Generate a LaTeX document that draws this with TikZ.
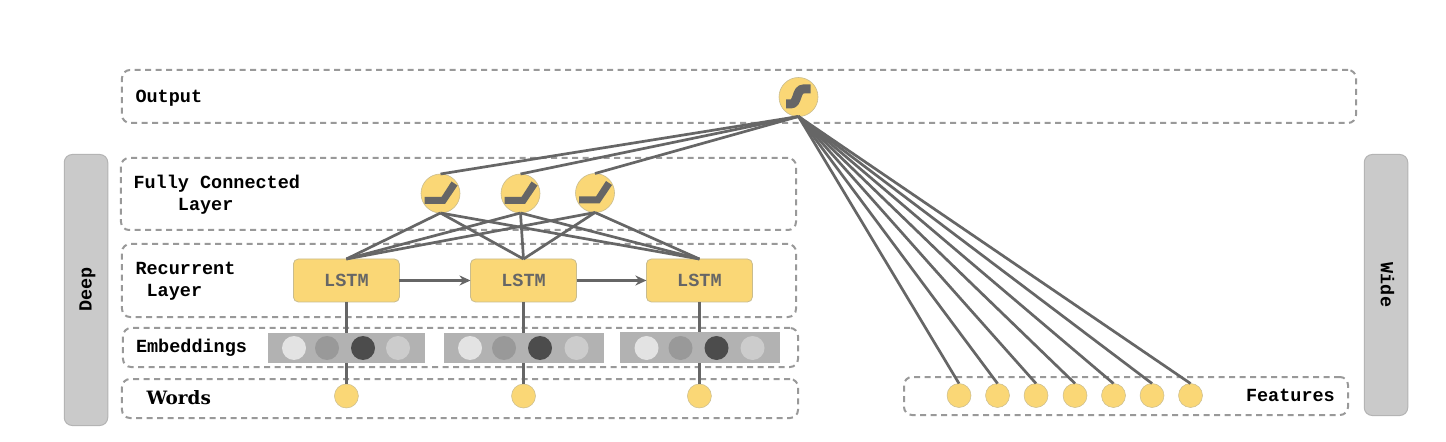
\documentclass[tikz,border=0pt]{standalone}
\usepackage{fontspec}
\setmainfont{DejaVu Serif}
\setmonofont{Liberation Mono}
\usetikzlibrary{arrows.meta}
\definecolor{ylw}{HTML}{FAD776}
\definecolor{ylwb}{HTML}{C9BC8E}
\definecolor{lin}{HTML}{666666}
\definecolor{dsh}{HTML}{999999}
\definecolor{barf}{HTML}{CACACA}
\definecolor{barb}{HTML}{B4B4B4}
\tikzset{
  x=1bp,y=-1bp,
  every node/.style={inner sep=0pt,outer sep=0pt},
  dbox/.style={draw=dsh,line width=2bp,dash pattern=on 6bp off 4.5bp,rounded corners=8bp,rectangle},
  bar/.style={draw=barb,line width=1bp,fill=barf,rounded corners=8bp,rectangle,minimum width=43.5bp},
  lab/.style={font=\fontsize{18.5bp}{22bp}\selectfont\ttfamily\bfseries,text=black,anchor=base west},
  mlab/.style={font=\fontsize{18.5bp}{22.5bp}\selectfont\ttfamily\bfseries,text=black,anchor=north west,align=left},
  neuron/.style={circle,draw=ylwb,line width=0.6bp,fill=ylw,minimum size=39bp},
  dot/.style={circle,draw=ylwb,line width=0.5bp,fill=ylw,minimum size=24bp},
  lstm/.style={rectangle,rounded corners=5bp,draw=ylwb,line width=0.8bp,fill=ylw,minimum width=106bp,minimum height=43bp,
    font=\fontsize{18.5bp}{22bp}\selectfont\ttfamily\bfseries,text=lin},
  emb/.style={rectangle,fill=black!30,minimum width=158bp,minimum height=30bp},
  ec/.style={circle,minimum size=24bp},
  conn/.style={draw=lin,line width=2.7bp},
  arr/.style={conn,-{Stealth[length=11bp,width=10bp]}},
  glyph/.style={fill=lin},
}
\begin{document}
\begin{tikzpicture}
\useasboundingbox (0,0) rectangle (1446,442);
\fill[white] (0,0) rectangle (1446,442);
% side bars
\node[bar,minimum height=271bp] (deepbar) at (86,290) {};
\node[bar,minimum height=261bp] (widebar) at (1386,285) {};
\node[font=\fontsize{18.5bp}{22bp}\selectfont\ttfamily\bfseries,rotate=90] (deep) at (87.5,289.5) {Deep};
\node[font=\fontsize{18.5bp}{22bp}\selectfont\ttfamily\bfseries,rotate=-90] (wide) at (1387.5,285) {Wide};
% dashed layers
\node[dbox,minimum width=1234bp,minimum height=53bp] (boxout) at (739,96.5) {};
\node[dbox,minimum width=675bp,minimum height=72bp] (boxfc) at (458.5,194) {};
\node[dbox,minimum width=674bp,minimum height=73bp] (boxrec) at (459,280.5) {};
\node[dbox,minimum width=675bp,minimum height=39bp] (boxemb) at (460.5,347.5) {};
\node[dbox,minimum width=676bp,minimum height=39bp] (boxwords) at (460,398.5) {};
\node[dbox,minimum width=444bp,minimum height=38bp] (boxfeat) at (1126,396) {};
% labels
\node[lab] (lout) at (135.5,103) {Output};
\node[mlab] (lfc) at (133.5,175) {Fully Connected\\\hspace*{44.4bp}Layer};
\node[mlab] (lrec) at (135.5,262) {Recurrent\\\hspace*{11.1bp}Layer};
\node[lab] (lemb) at (136,353) {Embeddings};
\node[anchor=base west,font=\fontsize{18.4bp}{22bp}\selectfont\bfseries] (lwords) at (146.5,404.5) {Words};
\node[lab] (lfeat) at (1246,401.5) {Features};
% neurons
\node[neuron] (out) at (798.5,97) {};
\node[neuron] (fca) at (440.5,193.5) {};
\node[neuron] (fcb) at (520.5,193.5) {};
\node[neuron] (fcc) at (595,193) {};
% lstm
\node[lstm] (la) at (346.4,280.5) {LSTM};
\node[lstm] (lb) at (523.5,280.5) {LSTM};
\node[lstm] (lc) at (699.4,280.5) {LSTM};
% word dots
\node[dot] (wa) at (346.4,396) {};
\node[dot] (wb) at (523.5,396) {};
\node[dot] (wc) at (699.4,396) {};
% feature dots
\foreach \n/\x in {1/959,2/997.5,3/1036,4/1075,5/1113.5,6/1152,7/1190.5}{
  \node[dot] (f\n) at (\x,395.5) {};
}
% connectors
\foreach \a in {fca,fcb,fcc}{
  \draw[conn] (out.south) -- (\a.north);
  \foreach \b in {la,lb,lc}{\draw[conn] (\a.south) -- (\b.north);}
}
\foreach \n in {1,...,7}{\draw[conn] (out.south) -- (f\n.north);}
\draw[arr] (la.east) -- (lb.west);
\draw[arr] (lb.east) -- (lc.west);
\draw[conn] (la.south) -- (wa.north);
\draw[conn] (lb.south) -- (wb.north);
\draw[conn] (lc.south) -- (wc.north);
% embeddings
\node[emb,minimum width=157bp] (ea) at (346.5,348) {};
\node[emb,minimum width=160bp] (eb) at (523.5,348) {};
\node[emb,minimum width=160bp] (ec) at (699.5,347.5) {};
\foreach \e/\xa/\xb/\xc/\xd in {ea/294/327/363/398,eb/470/504/540/576.5,ec/646.5/680.5/716.5/752.5}{
  \node[ec,fill=black!11] (\e1) at (\xa,348) {};
  \node[ec,fill=black!40] (\e2) at (\xb,348) {};
  \node[ec,fill=black!70] (\e3) at (\xc,348) {};
  \node[ec,fill=black!20] (\e4) at (\xd,348) {};
}
% activation glyphs
\foreach \a in {fca,fcb,fcc}{
  \fill[glyph,shift={(\a)}] (-16,3.5) -- (1,3.5) -- (11,-12) -- (17,-8) -- (4.5,10.5) -- (-16,10.5) -- cycle;
}
\draw[draw=lin,line width=9bp,shift={(out)}] (-12.5,7) -- (-8,7) .. controls (0,7) and (-3,-8) .. (5,-8) -- (12,-8);
\end{tikzpicture}
\end{document}
